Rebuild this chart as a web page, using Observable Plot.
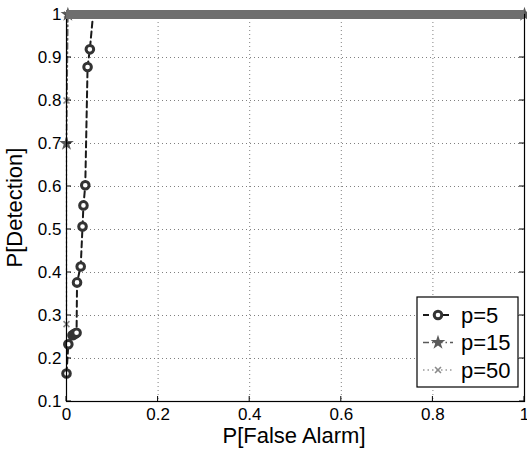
<!DOCTYPE html>
<html>
<head>
<meta charset="utf-8">
<script src="https://cdn.jsdelivr.net/npm/d3@7"></script>
<script src="https://cdn.jsdelivr.net/npm/@observablehq/plot@0.6"></script>
<style>
  html, body { margin: 0; padding: 0; background: #fff; }
  #chart { width: 527px; height: 451px; }
</style>
</head>
<body>
<div id="chart"></div>
<script>
// ---- data ----
const seriesNames = ["p=5", "p=15", "p=50"];
const p5FalseAlarm = [0.000, 0.004, 0.013, 0.016, 0.019, 0.022, 0.023, 0.031, 0.035, 0.037, 0.041, 0.046, 0.051, 0.058];
const p5Detection  = [0.165, 0.233, 0.254, 0.256, 0.258, 0.260, 0.377, 0.414, 0.507, 0.556, 0.603, 0.878, 0.919, 1.000];
const p15FalseAlarm = [0.000, 0.003, 1.000];
const p15Detection  = [0.700, 1.000, 1.000];
const p50FalseAlarm = [0.000, 0.000, 0.001, 1.000];
const p50Detection  = [0.280, 0.800, 1.000, 1.000];
const saturatedLevel = [1.0];
const xTicks = [0, 0.2, 0.4, 0.6, 0.8, 1];
const yTicks = [0.1, 0.2, 0.3, 0.4, 0.5, 0.6, 0.7, 0.8, 0.9, 1];
const xLabel = "P[False Alarm]";
const yLabel = "P[Detection]";

const toRows = (xs, ys) => xs.map((x, i) => ({x, y: ys[i]}));
const p5 = toRows(p5FalseAlarm, p5Detection);
const p15 = toRows(p15FalseAlarm, p15Detection);
const p50 = toRows(p50FalseAlarm, p50Detection);

const fmt = v => (v === 0 ? "0" : v === 1 ? "1" : v.toFixed(1));
const font = "'Liberation Sans', Arial, Helvetica, sans-serif";

const styles = {
  "p=5":  {stroke: "#1a1a1a", dash: "6,4", width: 2, symbol: "circle", mstroke: "#333", mfill: "#fff", r: 3.8, mw: 3},
  "p=15": {stroke: "#5a5a5a", dash: "6,3,1.5,3", width: 1.6, symbol: "star", mstroke: "none", mfill: "#5a5a5a", r: 4.6, mw: 0},
  "p=50": {stroke: "#9a9a9a", dash: "1.5,3", width: 1.4, symbol: "times", mstroke: "#8a8a8a", mfill: "none", r: 2.8, mw: 1.6}
};

const plot = Plot.plot({
  width: 527,
  height: 451,
  marginLeft: 66,
  marginRight: 3,
  marginTop: 14,
  marginBottom: 50,
  style: {fontFamily: font, background: "#fff", overflow: "visible"},
  x: {domain: [0, 1]},
  y: {domain: [0.1, 1]},
  marks: [
    Plot.gridX(xTicks, {stroke: "#808080", strokeOpacity: 1, strokeWidth: 1, strokeDasharray: "1,3"}),
    Plot.gridY(yTicks, {stroke: "#808080", strokeOpacity: 1, strokeWidth: 1, strokeDasharray: "1,3"}),
    Plot.line(p50, {x: "x", y: "y", stroke: styles["p=50"].stroke, strokeWidth: styles["p=50"].width, strokeDasharray: styles["p=50"].dash}),
    Plot.line(p15, {x: "x", y: "y", stroke: styles["p=15"].stroke, strokeWidth: styles["p=15"].width, strokeDasharray: styles["p=15"].dash}),
    Plot.line(p5, {x: "x", y: "y", stroke: styles["p=5"].stroke, strokeWidth: styles["p=5"].width, strokeDasharray: styles["p=5"].dash}),
    Plot.dot(p50, {x: "x", y: "y", symbol: "times", r: 2.8, stroke: "#8a8a8a", strokeWidth: 1.6}),
    Plot.dot(p15, {x: "x", y: "y", symbol: "star", r: 4.6, fill: "#5a5a5a"}),
    Plot.dot(p5, {filter: d => d.y < 1, x: "x", y: "y", symbol: "circle", r: 3.8, stroke: "#333", strokeWidth: 3, fill: "#fff"}),
    Plot.frame({stroke: "#000", strokeWidth: 1.2}),
    Plot.ruleY(saturatedLevel, {stroke: "#6e6e6e", strokeWidth: 9}),
    Plot.axisX(xTicks, {tickSize: 0, tickPadding: 6, tickFormat: fmt, fontSize: 17, fill: "#000", label: null}),
    Plot.axisY(yTicks, {tickSize: 0, tickPadding: 5, tickFormat: fmt, fontSize: 17, fill: "#000", label: null})
  ]
});

document.getElementById("chart").appendChild(plot);
const svg = d3.select(plot);

// inward tick marks (MATLAB style), placed with the plot's own scales
const sx = plot.scale("x"), sy = plot.scale("y");
const X0 = sx.apply(0), X1 = sx.apply(1), Y0 = sy.apply(0.1), Y1 = sy.apply(1);
const tg = svg.append("g").attr("stroke", "#000").attr("stroke-width", 1);
xTicks.forEach(t => {
  tg.append("line").attr("x1", sx.apply(t)).attr("x2", sx.apply(t)).attr("y1", Y0).attr("y2", Y0 - 5);
});
yTicks.filter(t => t < 1).forEach(t => {
  tg.append("line").attr("x1", X0).attr("x2", X0 + 5).attr("y1", sy.apply(t)).attr("y2", sy.apply(t));
  tg.append("line").attr("x1", X1).attr("x2", X1 - 5).attr("y1", sy.apply(t)).attr("y2", sy.apply(t));
});

// axis titles
svg.append("text").attr("x", 294).attr("y", 443).attr("text-anchor", "middle")
  .attr("font-family", font).attr("font-size", 22).attr("fill", "#000").text(xLabel);
svg.append("text").attr("transform", `translate(22,${(Y0 + Y1) / 2}) rotate(-90)`).attr("text-anchor", "middle")
  .attr("font-family", font).attr("font-size", 22).attr("fill", "#000").text(yLabel);

// legend
const lg = svg.append("g").attr("transform", "translate(417,297)");
lg.append("rect").attr("x", 0).attr("y", 0).attr("width", 101).attr("height", 90)
  .attr("fill", "#fff").attr("stroke", "#000").attr("stroke-width", 1.2);
seriesNames.forEach((name, i) => {
  const s = styles[name];
  const cy = 18 + i * 27.5;
  lg.append("line").attr("x1", 6).attr("x2", 36).attr("y1", cy).attr("y2", cy)
    .attr("stroke", s.stroke).attr("stroke-width", s.width).attr("stroke-dasharray", s.dash);
  const sym = {circle: d3.symbolCircle, star: d3.symbolStar, times: d3.symbolTimes}[s.symbol];
  const size = Math.PI * s.r * s.r;
  lg.append("path").attr("d", d3.symbol(sym, size)()).attr("transform", `translate(21,${cy})`)
    .attr("fill", s.mfill).attr("stroke", s.mstroke).attr("stroke-width", s.mw);
  lg.append("text").attr("x", 44).attr("y", cy).attr("dy", "0.36em").attr("text-anchor", "start")
    .attr("font-family", font).attr("font-size", 22).attr("fill", "#000").text(name);
});
</script>
</body>
</html>
